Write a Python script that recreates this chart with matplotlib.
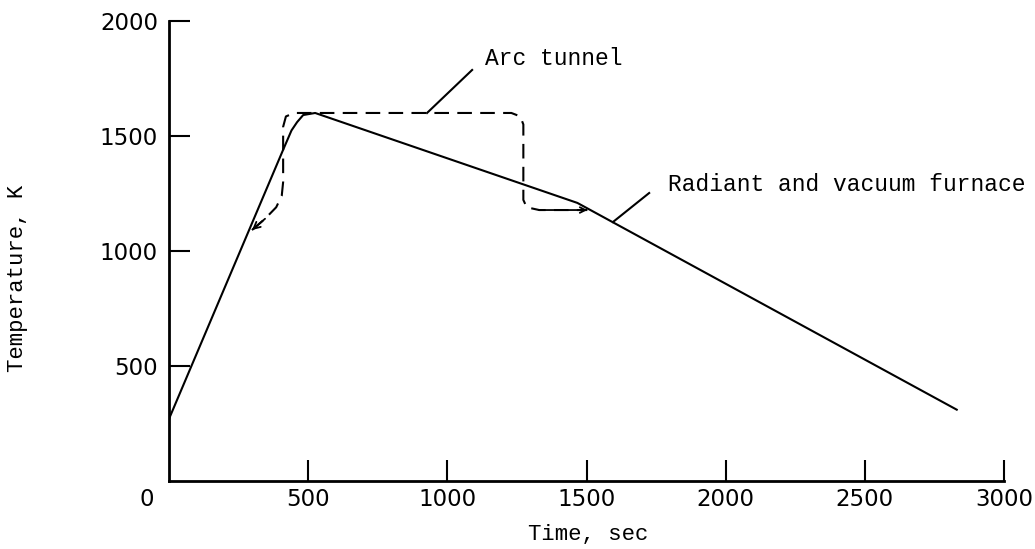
"""
Temperature history: radiant/vacuum furnace vs arc tunnel
"""

import matplotlib
matplotlib.use('Agg')
import matplotlib.pyplot as plt

# Radiant and vacuum furnace (solid)
furnace_time = [0, 410, 440, 460, 482, 525, 1467, 2830]
furnace_temp = [270, 1440, 1524, 1560, 1591, 1600, 1209, 310]

# Arc tunnel (dashed)
arc_time = [298, 345, 385, 405, 410, 410, 420, 450, 1230, 1262, 1273, 1273, 1285, 1330, 1503]
arc_temp = [1091, 1140, 1190, 1240, 1300, 1540, 1585, 1600, 1600, 1585, 1550, 1222, 1190, 1178, 1178]

x_ticks = [500, 1000, 1500, 2000, 2500, 3000]
y_ticks = [500, 1000, 1500, 2000]

mono = 'Liberation Mono'

fig = plt.figure(figsize=(10.35, 5.49), dpi=100)
ax = fig.add_axes([0.1633, 0.1239, 0.8068, 0.8379])

ax.plot(furnace_time, furnace_temp, color='black', lw=1.5, solid_joinstyle='round')
ax.plot(arc_time, arc_temp, color='black', lw=1.5, dashes=(7, 4))

# little arrow heads where the dashed curve meets the solid one
ax.annotate('', xy=(arc_time[0], arc_temp[0]), xytext=(arc_time[1], arc_temp[1]),
            arrowprops=dict(arrowstyle='->', color='black', lw=1.3, shrinkA=0, shrinkB=0,
                            mutation_scale=12))
ax.annotate('', xy=(arc_time[-1], arc_temp[-1]), xytext=(arc_time[-2], arc_temp[-2]),
            arrowprops=dict(arrowstyle='->', color='black', lw=1.3, shrinkA=0, shrinkB=0,
                            mutation_scale=10))

# leader lines and labels
ax.plot([927, 1089], [1600, 1787], color='black', lw=1.5)
ax.plot([1595, 1725], [1126, 1252], color='black', lw=1.5)
ax.text(1135, 1839, 'Arc tunnel', family=mono, fontsize=16.5, va='center', ha='left')
ax.text(1793, 1287, 'Radiant and vacuum furnace', family=mono, fontsize=16.5,
        va='center', ha='left')

ax.set_xlim(0, 3000)
ax.set_ylim(0, 2000)
ax.set_xticks(x_ticks)
ax.set_yticks(y_ticks)
ax.tick_params(direction='in', length=15, width=1.5, labelsize=16.5, color='black')
ax.tick_params(axis='y', pad=8)
ax.tick_params(axis='x', pad=5)
for side in ['top', 'right']:
    ax.spines[side].set_visible(False)
for side in ['left', 'bottom']:
    ax.spines[side].set_linewidth(2)

# origin label sits left of the corner
ax.annotate('0', xy=(0, 0), xytext=(-16, -5), textcoords='offset points',
            fontsize=16.5, ha='center', va='top')

fig.text(588 / 1035, 1 - 535 / 549, 'Time, sec', family=mono, fontsize=16,
         ha='center', va='center')
fig.text(18 / 1035, 1 - 278 / 549, 'Temperature, K', family=mono, fontsize=16,
         ha='center', va='center', rotation=90)

fig.savefig('out.png', dpi=100)
